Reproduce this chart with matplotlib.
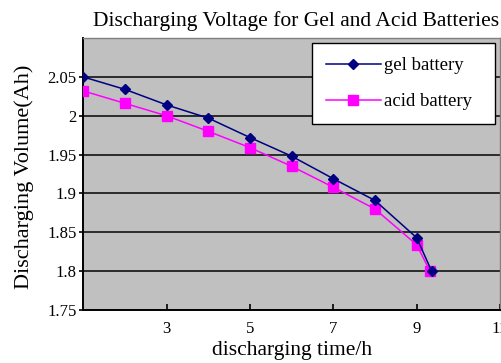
import matplotlib

matplotlib.use("Agg")
import matplotlib.pyplot as plt

# Chart data.
gel_time = [1, 2, 3, 4, 5, 6, 7, 8, 9, 9.36]
gel_volume = [2.050, 2.034, 2.014, 1.997, 1.972, 1.948, 1.919, 1.891, 1.843, 1.800]
acid_time = [1, 2, 3, 4, 5, 6, 7, 8, 9, 9.32]
acid_volume = [2.032, 2.016, 2.000, 1.980, 1.959, 1.935, 1.908, 1.880, 1.834, 1.800]
x_ticks = [3, 5, 7, 9, 11]
y_ticks = [1.75, 1.8, 1.85, 1.9, 1.95, 2.0, 2.05]
y_tick_labels = ["1.75", "1.8", "1.85", "1.9", "1.95", "2", "2.05"]

SERIF = ["Liberation Serif", "DejaVu Serif"]
PLOT_BG = "#C0C0C0"
GEL = "#000080"
ACID = "#FF00FF"

plt.rcParams["font.family"] = SERIF

fig = plt.figure(figsize=(5.02, 3.63), dpi=100)
fig.patch.set_facecolor("white")
ax = fig.add_axes([0.166, 0.146, 0.830, 0.749])
ax.set_facecolor(PLOT_BG)

ax.plot(gel_time, gel_volume, color=GEL, linewidth=1.1, marker="D",
        markersize=5.2, label="gel battery", zorder=4)
ax.plot(acid_time, acid_volume, color=ACID, linewidth=1.1, marker="s",
        markersize=7, label="acid battery", zorder=3)

ax.set_xlim(1, 11)
ax.set_ylim(1.75, 2.1)
ax.set_xticks(x_ticks)
ax.set_yticks(y_ticks)
ax.set_yticklabels(y_tick_labels)
ax.grid(axis="y", color="#202020", linewidth=1.3)
ax.set_axisbelow(True)

for side in ("left", "bottom"):
    ax.spines[side].set_color("black")
    ax.spines[side].set_linewidth(1.4)
for side in ("top", "right"):
    ax.spines[side].set_color("#808080")
    ax.spines[side].set_linewidth(1.0)

ax.tick_params(axis="x", direction="in", length=4, width=1.2, labelsize=12, pad=8)
ax.tick_params(axis="y", direction="out", length=3, width=1.2, labelsize=12, pad=2)

ax.set_xlabel("discharging time/h", fontsize=15.5, labelpad=3)
fig.text(0.048, 0.513, "Discharging Volume(Ah)", rotation=90,
         ha="center", va="center", fontsize=16)
fig.text(0.59, 0.943, "Discharging Voltage for Gel and Acid Batteries",
         ha="center", va="center", fontsize=15.5)

leg = ax.legend(loc="upper left", bbox_to_anchor=(0.549, 0.706, 0.439, 0.276),
                mode="expand", borderaxespad=0, fontsize=13.5,
                frameon=True, fancybox=False, facecolor="white", edgecolor="black",
                borderpad=0.75, labelspacing=1.0, handlelength=2.9, handletextpad=0.2)
leg.get_frame().set_linewidth(1.0)
leg.get_frame().set_alpha(1)

fig.savefig("out.png", dpi=100)
